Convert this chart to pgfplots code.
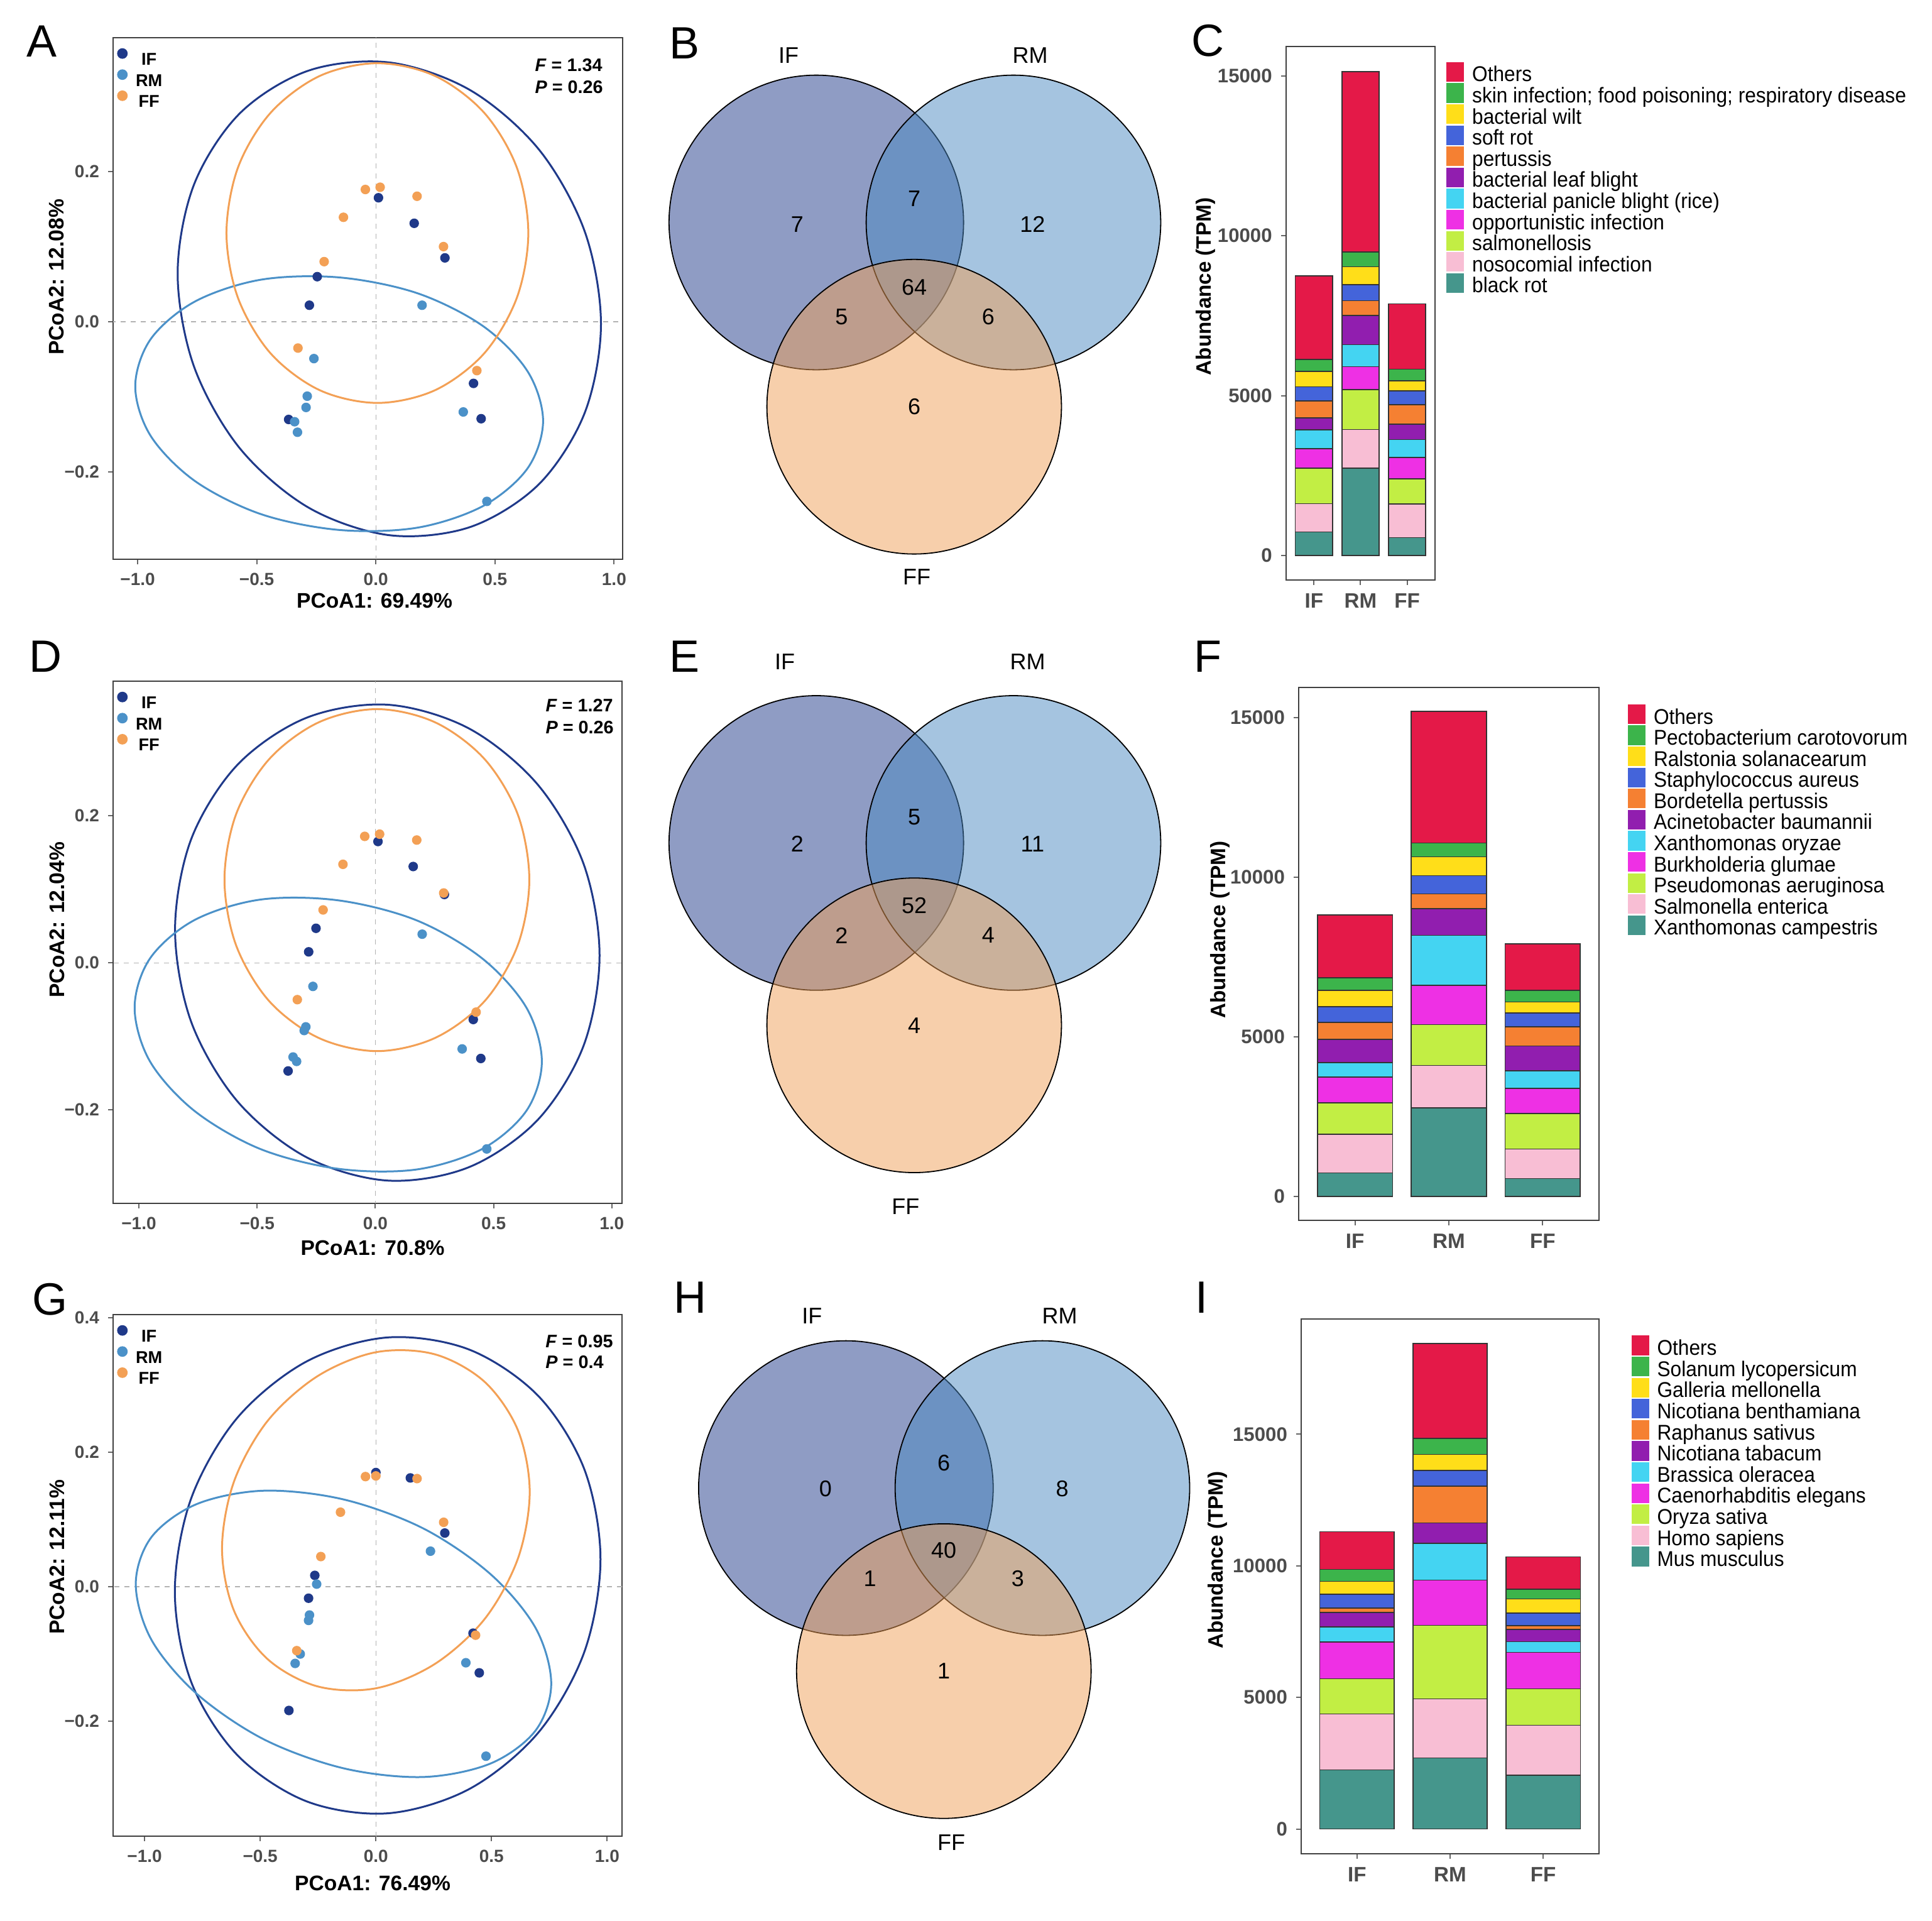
\documentclass[border=0pt]{standalone}
\usepackage{pgfplots}
\pgfplotsset{compat=1.18}
\usepackage{fontspec}
\setmainfont{Liberation Sans}
\newfontfamily\narrowfont[FakeStretch=0.93]{Liberation Sans}

\definecolor{cIF}{RGB}{31,57,137}
\definecolor{cRM}{RGB}{75,145,200}
\definecolor{cFF}{RGB}{243,160,85}
\definecolor{vIF}{RGB}{31,57,137}
\definecolor{vRM}{RGB}{75,137,193}
\definecolor{vFF}{RGB}{239,159,87}
\definecolor{bTeal}{RGB}{69,150,140}
\definecolor{bPink}{RGB}{248,190,212}
\definecolor{bLime}{RGB}{194,238,68}
\definecolor{bMag}{RGB}{238,48,228}
\definecolor{bCyan}{RGB}{68,212,242}
\definecolor{bPurp}{RGB}{145,30,175}
\definecolor{bOrg}{RGB}{245,128,50}
\definecolor{bBlue}{RGB}{68,100,218}
\definecolor{bYel}{RGB}{255,222,25}
\definecolor{bGrn}{RGB}{60,180,75}
\definecolor{bRed}{RGB}{228,25,72}

\tikzset{fpnote/.style={anchor=west, inner sep=0pt, font=\fontsize{7.2}{8}\selectfont\bfseries}}

\pgfplotsset{
  pcoa/.style={
    scale only axis,
    axis line style={draw=black!75, line width=0.55pt},
    tick align=outside, major tick length=2pt,
    tick style={draw=black!60, line width=0.5pt},
    tick pos=left,
    xtick={-1,-0.5,0,0.5,1},
    xticklabels={−1.0,−0.5,0.0,0.5,1.0},
    ticklabel style={font=\fontsize{7}{8}\selectfont\bfseries, text=black!70},
    label style={font=\fontsize{8.4}{10}\selectfont\bfseries},
    legend style={at={(rel axis cs:0,1)}, anchor=north west, xshift=1.6pt, yshift=-4.2pt,
      draw=none, fill=none, inner sep=0pt, row sep=1.4pt,
      font=\fontsize{6.8}{7}\selectfont\bfseries,
      nodes={inner sep=0pt, text height=4.9pt, text depth=0.5pt},
      /tikz/every odd column/.append style={column sep=3.4pt}},
    legend image code/.code={\draw[#1,mark size=1.9pt] plot coordinates {(1.9pt,2.4pt)};},
  },
  pcoapt/.style={only marks, mark=*, mark size=1.7pt},
  zeroline/.style={forget plot, draw=black!30, dash pattern=on 2pt off 2pt, line width=0.35pt},
  ell/.style={forget plot, smooth cycle, tension=0.55, line width=0.75pt},
  barax/.style={
    scale only axis, ybar stacked, bar width=0.8,
    xmin=0.4, xmax=3.6, xtick={1,2,3}, xticklabels={IF,RM,FF},
    ytick={0,5000,10000,15000}, yticklabels={0,5000,10000,15000},
    scaled y ticks=false,
    axis line style={draw=black!75, line width=0.55pt},
    tick align=outside, major tick length=2pt,
    tick style={draw=black!60, line width=0.5pt}, tick pos=left,
    x tick label style={font=\fontsize{8.3}{9}\selectfont\bfseries, text=black!70},
    y tick label style={font=\fontsize{7.8}{9}\selectfont\bfseries, text=black!70},
    ylabel={Abundance (TPM)},
    label style={font=\fontsize{8.3}{10}\selectfont\bfseries},
    reverse legend, legend cell align=left,
    legend style={at={(rel axis cs:1,1)}, anchor=north west, draw=none, fill=none,
      inner sep=0pt, row sep=-1.6pt, font=\narrowfont\fontsize{8.5}{9}\selectfont,
      nodes={inner sep=0pt, text height=6.2pt, text depth=2.2pt},
      /tikz/every odd column/.append style={column sep=3.2pt}},
    legend image code/.code={\fill[#1, draw=none] (0pt,-2.0pt) rectangle (7pt,5.8pt);},
  },
  bseg/.style={fill=#1, draw=black!80, line width=0.4pt},
  overlay/.style={at={(0pt,0pt)}, anchor=north west, scale only axis,
    width=768.75pt, height=764.25pt, xmin=0, xmax=3075, ymin=0, ymax=3057,
    y dir=reverse, hide axis, clip=false},
  venn/.style={only marks, mark=*, mark size=58.6pt, mark options={fill=#1, fill opacity=0.5, draw=black, draw opacity=1, line width=0.45pt}},
}

\begin{document}
\begin{tikzpicture}
\useasboundingbox (0pt,0pt) rectangle (768.75pt,-764.25pt);

% ---------------- Venn circles ----------------
\begin{axis}[overlay]
\addplot[venn=vIF] coordinates {(1299.2,354) (1299.2,1341.4) (1346.3,2368)};
\addplot[venn=vRM] coordinates {(1613,354) (1613,1341.4) (1659.1,2368)};
\addplot[venn=vFF] coordinates {(1455,647.2) (1455,1631.6) (1502.2,2659.3)};
\end{axis}

% ---------------- Venn texts and panel letters ----------------
\begin{axis}[overlay]
\addplot[draw=none, forget plot] coordinates {(0,0) (3075,3057)};
\begin{scope}[every node/.style={font=\fontsize{9}{10}\selectfont, inner sep=0pt}]
% B
\node at (axis cs:1255.1,88.2) {IF};
\node at (axis cs:1639.5,88.2) {RM};
\node at (axis cs:1459.1,917.8) {FF};
\node at (axis cs:1268.8,356.9) {7};
\node at (axis cs:1455.1,315.7) {7};
\node at (axis cs:1643.4,356.9) {12};
\node at (axis cs:1455.1,456.9) {64};
\node at (axis cs:1339.4,504.0) {5};
\node at (axis cs:1572.8,504.0) {6};
\node at (axis cs:1455.1,647.2) {6};
% E
\node at (axis cs:1249.2,1053.1) {IF};
\node at (axis cs:1635.6,1053.1) {RM};
\node at (axis cs:1441.4,1919.9) {FF};
\node at (axis cs:1268.8,1343.3) {2};
\node at (axis cs:1455.1,1300.2) {5};
\node at (axis cs:1643.4,1343.3) {11};
\node at (axis cs:1455.1,1441.4) {52};
\node at (axis cs:1339.4,1488.5) {2};
\node at (axis cs:1572.8,1488.5) {4};
\node at (axis cs:1455.1,1631.6) {4};
% H
\node at (axis cs:1292.4,2094.5) {IF};
\node at (axis cs:1686.5,2094.5) {RM};
\node at (axis cs:1514.0,2931.9) {FF};
\node at (axis cs:1313.9,2369) {0};
\node at (axis cs:1502.2,2327.8) {6};
\node at (axis cs:1690.5,2369) {8};
\node at (axis cs:1502.2,2467) {40};
\node at (axis cs:1384.5,2512.1) {1};
\node at (axis cs:1619.9,2512.1) {3};
\node at (axis cs:1502.2,2659.3) {1};
\end{scope}
\begin{scope}[every node/.style={font=\fontsize{18}{20}\selectfont, inner sep=0pt}]
\node at (axis cs:67,66) {A};
\node at (axis cs:1090,68.6) {B};
\node at (axis cs:1922,65) {C};
\node at (axis cs:72.6,1045) {D};
\node at (axis cs:1090,1045) {E};
\node at (axis cs:1922,1045) {F};
\node at (axis cs:80,2068) {G};
\node at (axis cs:1098,2065) {H};
\node at (axis cs:1912,2065) {I};
\end{scope}
\end{axis}

% ---------------- Panel A ----------------
\begin{axis}[pcoa, at={(45pt,-222.5pt)}, anchor=south west, width=202.75pt, height=207.5pt,
  xmin=-1.103, xmax=1.036, ymin=-0.316, ymax=0.378,
  ytick={-0.2,0,0.2}, yticklabels={−0.2,0.0,0.2},
  xlabel={PCoA1: 69.49\%}, ylabel={PCoA2: 12.08\%},
  xlabel style={at={(rel axis cs:0.513,-0.0795)}, anchor=center},
  ylabel style={at={(rel axis cs:-0.111,0.541)}, anchor=center}]
\addplot[zeroline] coordinates {(0,-1) (0,1)};
\addplot[zeroline] coordinates {(-2,0) (2,0)};
\addplot[ell, cIF] coordinates {(0.945,-0.003) (0.877,0.120) (0.685,0.229) (0.397,0.308) (0.057,0.345) (-0.284,0.334) (-0.572,0.277) (-0.764,0.182) (-0.832,0.064) (-0.764,-0.059) (-0.572,-0.168) (-0.284,-0.247) (0.057,-0.284) (0.397,-0.273) (0.685,-0.216) (0.877,-0.121)};
\addplot[ell, cRM] coordinates {(0.702,-0.132) (0.637,-0.066) (0.451,-0.006) (0.174,0.038) (-0.154,0.059) (-0.482,0.056) (-0.759,0.027) (-0.945,-0.023) (-1.010,-0.086) (-0.945,-0.152) (-0.759,-0.212) (-0.482,-0.256) (-0.154,-0.277) (0.174,-0.274) (0.451,-0.245) (0.637,-0.195)};
\addplot[ell, cFF] coordinates {(0.640,0.118) (0.592,0.205) (0.455,0.278) (0.249,0.327) (0.007,0.344) (-0.236,0.327) (-0.442,0.278) (-0.579,0.205) (-0.627,0.118) (-0.579,0.032) (-0.442,-0.042) (-0.236,-0.091) (0.007,-0.108) (0.249,-0.091) (0.455,-0.042) (0.592,0.032)};
\addplot[pcoapt, color=cIF] coordinates {(0.011,0.165) (0.161,0.131) (0.290,0.085) (-0.246,0.060) (-0.279,0.022) (-0.366,-0.130) (0.410,-0.082) (0.442,-0.129)};
\addlegendentry{IF}
\addplot[pcoapt, color=cRM] coordinates {(0.194,0.022) (-0.260,-0.049) (-0.288,-0.099) (-0.293,-0.114) (-0.341,-0.133) (-0.329,-0.147) (0.367,-0.120) (0.466,-0.239)};
\addlegendentry{RM}
\addplot[pcoapt, color=cFF] coordinates {(-0.044,0.176) (0.018,0.179) (0.173,0.167) (-0.136,0.139) (0.284,0.100) (-0.217,0.080) (-0.327,-0.035) (0.424,-0.065)};
\addlegendentry{FF}
\node[fpnote] at (rel axis cs:0.827,0.947) {\textit{F} = 1.34};
\node[fpnote] at (rel axis cs:0.827,0.905) {\textit{P} = 0.26};
\end{axis}

% ---------------- Panel D ----------------
\begin{axis}[pcoa, at={(45pt,-478.75pt)}, anchor=south west, width=202.5pt, height=207.75pt,
  xmin=-1.109, xmax=1.043, ymin=-0.327, ymax=0.383,
  ytick={-0.2,0,0.2}, yticklabels={−0.2,0.0,0.2},
  xlabel={PCoA1: 70.8\%}, ylabel={PCoA2: 12.04\%},
  xlabel style={at={(rel axis cs:0.51,-0.085)}, anchor=center},
  ylabel style={at={(rel axis cs:-0.11,0.543)}, anchor=center}]
\addplot[zeroline] coordinates {(0,-1) (0,1)};
\addplot[zeroline] coordinates {(-2,0) (2,0)};
\addplot[ell, cIF] coordinates {(0.948,0.010) (0.880,0.135) (0.685,0.243) (0.394,0.319) (0.051,0.351) (-0.293,0.333) (-0.584,0.269) (-0.779,0.168) (-0.847,0.045) (-0.779,-0.080) (-0.584,-0.188) (-0.293,-0.264) (0.051,-0.296) (0.394,-0.278) (0.685,-0.214) (0.880,-0.113)};
\addplot[ell, cRM] coordinates {(0.704,-0.134) (0.639,-0.061) (0.452,0.006) (0.173,0.058) (-0.157,0.085) (-0.487,0.086) (-0.766,0.058) (-0.953,0.006) (-1.018,-0.061) (-0.953,-0.134) (-0.766,-0.201) (-0.487,-0.253) (-0.157,-0.280) (0.173,-0.281) (0.452,-0.253) (0.639,-0.201)};
\addplot[ell, cFF] coordinates {(0.651,0.113) (0.602,0.202) (0.462,0.277) (0.253,0.327) (0.007,0.345) (-0.240,0.327) (-0.449,0.277) (-0.589,0.202) (-0.638,0.113) (-0.589,0.024) (-0.449,-0.052) (-0.240,-0.102) (0.007,-0.120) (0.253,-0.102) (0.462,-0.052) (0.602,0.024)};
\addplot[pcoapt, color=cIF] coordinates {(0.011,0.165) (0.160,0.131) (0.292,0.093) (-0.251,0.047) (-0.282,0.015) (-0.369,-0.147) (0.414,-0.077) (0.446,-0.130)};
\addlegendentry{IF}
\addplot[pcoapt, color=cRM] coordinates {(0.198,0.039) (-0.264,-0.032) (-0.294,-0.087) (-0.301,-0.092) (-0.348,-0.128) (-0.333,-0.134) (0.367,-0.117) (0.471,-0.253)};
\addlegendentry{RM}
\addplot[pcoapt, color=cFF] coordinates {(-0.045,0.172) (0.018,0.175) (0.175,0.167) (-0.137,0.134) (0.289,0.095) (-0.221,0.072) (-0.330,-0.050) (0.426,-0.067)};
\addlegendentry{FF}
\node[fpnote] at (rel axis cs:0.849,0.954) {\textit{F} = 1.27};
\node[fpnote] at (rel axis cs:0.849,0.912) {\textit{P} = 0.26};
\end{axis}

% ---------------- Panel G ----------------
\begin{axis}[pcoa, at={(45pt,-730.5pt)}, anchor=south west, width=202.5pt, height=207.5pt,
  xmin=-1.136, xmax=1.064, ymin=-0.371, ymax=0.405,
  ytick={-0.2,0,0.2,0.4}, yticklabels={−0.2,0.0,0.2,0.4},
  xlabel={PCoA1: 76.49\%}, ylabel={PCoA2: 12.11\%},
  xlabel style={at={(rel axis cs:0.51,-0.09)}, anchor=center},
  ylabel style={at={(rel axis cs:-0.11,0.535)}, anchor=center}]
\addplot[zeroline] coordinates {(0,-1) (0,1)};
\addplot[zeroline] coordinates {(-2,0) (2,0)};
\addplot[ell, cIF] coordinates {(0.971,0.041) (0.901,0.175) (0.702,0.284) (0.403,0.353) (0.051,0.371) (-0.301,0.335) (-0.600,0.251) (-0.799,0.131) (-0.869,-0.007) (-0.799,-0.141) (-0.600,-0.250) (-0.301,-0.319) (0.051,-0.337) (0.403,-0.301) (0.702,-0.217) (0.901,-0.097)};
\addplot[ell, cRM] coordinates {(0.758,-0.144) (0.690,-0.061) (0.495,0.019) (0.204,0.087) (-0.140,0.130) (-0.484,0.143) (-0.775,0.123) (-0.970,0.074) (-1.038,0.004) (-0.970,-0.079) (-0.775,-0.159) (-0.484,-0.227) (-0.140,-0.270) (0.204,-0.283) (0.495,-0.263) (0.690,-0.214)};
\addplot[ell, cFF] coordinates {(0.665,0.141) (0.614,0.233) (0.470,0.305) (0.254,0.346) (0.000,0.349) (-0.254,0.313) (-0.470,0.246) (-0.614,0.156) (-0.665,0.057) (-0.614,-0.035) (-0.470,-0.107) (-0.254,-0.148) (0.000,-0.151) (0.254,-0.115) (0.470,-0.048) (0.614,0.042)};
\addplot[pcoapt, color=cIF] coordinates {(0.000,0.170) (0.149,0.162) (0.298,0.080) (-0.264,0.017) (-0.291,-0.017) (-0.376,-0.184) (0.420,-0.069) (0.447,-0.128)};
\addlegendentry{IF}
\addplot[pcoapt, color=cRM] coordinates {(0.236,0.053) (-0.256,0.004) (-0.287,-0.042) (-0.291,-0.050) (-0.327,-0.100) (-0.349,-0.114) (0.389,-0.113) (0.476,-0.252)};
\addlegendentry{RM}
\addplot[pcoapt, color=cFF] coordinates {(-0.045,0.164) (0.000,0.165) (0.178,0.161) (-0.153,0.111) (0.293,0.096) (-0.238,0.045) (-0.342,-0.095) (0.431,-0.072)};
\addlegendentry{FF}
\node[fpnote] at (rel axis cs:0.849,0.949) {\textit{F} = 0.95};
\node[fpnote] at (rel axis cs:0.849,0.909) {\textit{P} = 0.4};
\end{axis}

% ---------------- Panel C ----------------
\begin{axis}[barax, at={(511.7pt,-230.7pt)}, anchor=south west, width=59.3pt, height=212.2pt,
  ymin=-758, ymax=15918,
  ylabel style={at={(rel axis cs:-0.539,0.55)}, anchor=center},
  legend style={xshift=4.4pt, yshift=-6pt}]
\addplot[bseg=bTeal] coordinates {(1,738) (2,2740) (3,563)}; \addlegendentry{black rot}
\addplot[bseg=bPink] coordinates {(1,888) (2,1201) (3,1051)}; \addlegendentry{nosocomial infection}
\addplot[bseg=bLime] coordinates {(1,1114) (2,1251) (3,788)}; \addlegendentry{salmonellosis}
\addplot[bseg=bMag] coordinates {(1,600) (2,713) (3,663)}; \addlegendentry{opportunistic infection}
\addplot[bseg=bCyan] coordinates {(1,588) (2,688) (3,563)}; \addlegendentry{bacterial panicle blight (rice)}
\addplot[bseg=bPurp] coordinates {(1,375) (2,913) (3,488)}; \addlegendentry{bacterial leaf blight}
\addplot[bseg=bOrg] coordinates {(1,538) (2,463) (3,600)}; \addlegendentry{pertussis}
\addplot[bseg=bBlue] coordinates {(1,438) (2,500) (3,438)}; \addlegendentry{soft rot}
\addplot[bseg=bYel] coordinates {(1,476) (2,563) (3,313)}; \addlegendentry{bacterial wilt}
\addplot[bseg=bGrn] coordinates {(1,375) (2,463) (3,363)}; \addlegendentry{skin infection; food poisoning; respiratory disease}
\addplot[bseg=bRed] coordinates {(1,2615) (2,5642) (3,2039)}; \addlegendentry{Others}
\end{axis}

% ---------------- Panel F ----------------
\begin{axis}[barax, at={(516.75pt,-485.5pt)}, anchor=south west, width=119.5pt, height=212pt,
  ymin=-752, ymax=15935,
  ylabel style={at={(rel axis cs:-0.2615,0.545)}, anchor=center},
  legend style={xshift=11.35pt, yshift=-6.5pt}]
\addplot[bseg=bTeal] coordinates {(1,735) (2,2772) (3,554)}; \addlegendentry{Xanthomonas campestris}
\addplot[bseg=bPink] coordinates {(1,1205) (2,1325) (3,928)}; \addlegendentry{Salmonella enterica}
\addplot[bseg=bLime] coordinates {(1,988) (2,1277) (3,1109)}; \addlegendentry{Pseudomonas aeruginosa}
\addplot[bseg=bMag] coordinates {(1,808) (2,1229) (3,795)}; \addlegendentry{Burkholderia glumae}
\addplot[bseg=bCyan] coordinates {(1,457) (2,1567) (3,542)}; \addlegendentry{Xanthomonas oryzae}
\addplot[bseg=bPurp] coordinates {(1,723) (2,843) (3,784)}; \addlegendentry{Acinetobacter baumannii}
\addplot[bseg=bOrg] coordinates {(1,531) (2,458) (3,602)}; \addlegendentry{Bordetella pertussis}
\addplot[bseg=bBlue] coordinates {(1,494) (2,567) (3,422)}; \addlegendentry{Staphylococcus aureus}
\addplot[bseg=bYel] coordinates {(1,506) (2,590) (3,349)}; \addlegendentry{Ralstonia solanacearum}
\addplot[bseg=bGrn] coordinates {(1,397) (2,434) (3,362)}; \addlegendentry{Pectobacterium carotovorum}
\addplot[bseg=bRed] coordinates {(1,1965) (2,4121) (3,1458)}; \addlegendentry{Others}
\end{axis}

% ---------------- Panel I ----------------
\begin{axis}[barax, at={(517.75pt,-737.5pt)}, anchor=south west, width=118.5pt, height=212.75pt,
  ymin=-941, ymax=19380,
  ylabel style={at={(rel axis cs:-0.2816,0.549)}, anchor=center},
  legend style={xshift=12.75pt, yshift=-6.4pt}]
\addplot[bseg=bTeal] coordinates {(1,2247) (2,2702) (3,2049)}; \addlegendentry{Mus musculus}
\addplot[bseg=bPink] coordinates {(1,2125) (2,2247) (3,1898)}; \addlegendentry{Homo sapiens}
\addplot[bseg=bLime] coordinates {(1,1336) (2,2793) (3,1381)}; \addlegendentry{Oryza sativa}
\addplot[bseg=bMag] coordinates {(1,1396) (2,1715) (3,1382)}; \addlegendentry{Caenorhabditis elegans}
\addplot[bseg=bCyan] coordinates {(1,577) (2,1397) (3,409)}; \addlegendentry{Brassica oleracea}
\addplot[bseg=bPurp] coordinates {(1,547) (2,774) (3,471)}; \addlegendentry{Nicotiana tabacum}
\addplot[bseg=bOrg] coordinates {(1,167) (2,1396) (3,137)}; \addlegendentry{Raphanus sativus}
\addplot[bseg=bBlue] coordinates {(1,531) (2,608) (3,485)}; \addlegendentry{Nicotiana benthamiana}
\addplot[bseg=bYel] coordinates {(1,486) (2,607) (3,532)}; \addlegendentry{Galleria mellonella}
\addplot[bseg=bGrn] coordinates {(1,455) (2,607) (3,364)}; \addlegendentry{Solanum lycopersicum}
\addplot[bseg=bRed] coordinates {(1,1427) (2,3598) (3,1230)}; \addlegendentry{Others}
\end{axis}
\end{tikzpicture}
\end{document}
